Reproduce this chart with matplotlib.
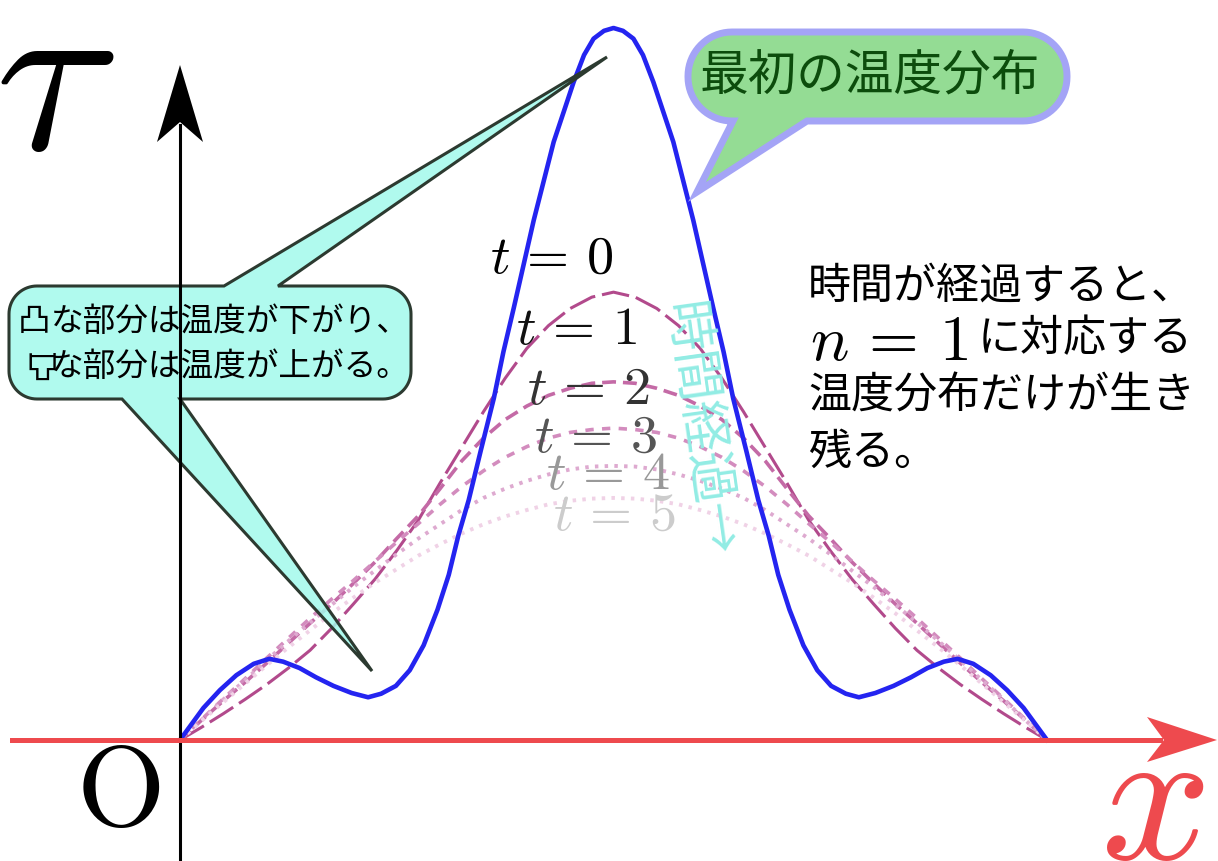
import numpy as np
import matplotlib.pyplot as plt
from matplotlib.patches import Polygon

plt.rcParams['mathtext.fontset'] = 'cm'
plt.rcParams['lines.scale_dashes'] = False
JP = ['Noto Sans CJK JP', 'DejaVu Sans']

# initial temperature (t = 0); x runs 0..1 between the ends
x_init = [0.000, 0.012, 0.027, 0.046, 0.065, 0.085, 0.103, 0.119, 0.138, 0.157,
          0.177, 0.198, 0.217, 0.232, 0.249, 0.265, 0.281, 0.297, 0.310, 0.321,
          0.333, 0.347, 0.362, 0.373, 0.385, 0.408, 0.431, 0.454, 0.466, 0.477,
          0.489, 0.500, 0.511, 0.523, 0.534, 0.546, 0.569, 0.592, 0.615, 0.627,
          0.638, 0.653, 0.667, 0.679, 0.690, 0.703, 0.719, 0.735, 0.751, 0.768,
          0.783, 0.802, 0.823, 0.843, 0.862, 0.881, 0.897, 0.915, 0.935, 0.954,
          0.973, 0.988, 1.000]
tau_init = [0.000, 0.020, 0.045, 0.070, 0.091, 0.107, 0.114, 0.110, 0.101, 0.088,
            0.076, 0.066, 0.060, 0.065, 0.076, 0.098, 0.133, 0.183, 0.232, 0.287,
            0.337, 0.407, 0.480, 0.545, 0.607, 0.730, 0.840, 0.924, 0.962, 0.985,
            0.996, 1.000, 0.996, 0.985, 0.962, 0.924, 0.840, 0.730, 0.607, 0.545,
            0.480, 0.407, 0.337, 0.287, 0.232, 0.183, 0.133, 0.098, 0.076, 0.065,
            0.060, 0.066, 0.076, 0.088, 0.101, 0.110, 0.114, 0.107, 0.091, 0.070,
            0.045, 0.020, 0.000]

# later times t = 1..5
x_t = [0.000, 0.025, 0.050, 0.075, 0.100, 0.125, 0.150, 0.175, 0.200, 0.225,
       0.250, 0.275, 0.300, 0.325, 0.350, 0.375, 0.400, 0.425, 0.450, 0.475,
       0.500, 0.525, 0.550, 0.575, 0.600, 0.625, 0.650, 0.675, 0.700, 0.725,
       0.750, 0.775, 0.800, 0.825, 0.850, 0.875, 0.900, 0.925, 0.950, 0.975, 1.000]
tau_t1 = [0.000, 0.018, 0.037, 0.057, 0.078, 0.101, 0.126, 0.157, 0.191, 0.226,
          0.266, 0.309, 0.361, 0.411, 0.461, 0.508, 0.550, 0.582, 0.606, 0.622,
          0.629, 0.622, 0.606, 0.582, 0.550, 0.508, 0.461, 0.411, 0.361, 0.309,
          0.266, 0.226, 0.191, 0.157, 0.126, 0.101, 0.078, 0.057, 0.037, 0.018, 0.000]
tau_t2 = [0.000, 0.028, 0.055, 0.081, 0.108, 0.136, 0.164, 0.191, 0.220, 0.250,
          0.283, 0.315, 0.353, 0.392, 0.424, 0.450, 0.469, 0.484, 0.494, 0.501,
          0.503, 0.501, 0.494, 0.484, 0.469, 0.450, 0.424, 0.392, 0.353, 0.315,
          0.283, 0.250, 0.220, 0.191, 0.164, 0.136, 0.108, 0.081, 0.055, 0.028, 0.000]
tau_t3 = [0.000, 0.029, 0.058, 0.086, 0.115, 0.143, 0.171, 0.198, 0.224, 0.251,
          0.278, 0.304, 0.331, 0.356, 0.378, 0.397, 0.412, 0.424, 0.432, 0.436,
          0.438, 0.436, 0.432, 0.424, 0.412, 0.397, 0.378, 0.356, 0.331, 0.304,
          0.278, 0.251, 0.224, 0.198, 0.171, 0.143, 0.115, 0.086, 0.058, 0.029, 0.000]
tau_t4 = [0.000, 0.028, 0.057, 0.084, 0.112, 0.139, 0.165, 0.190, 0.215, 0.238,
          0.261, 0.283, 0.303, 0.323, 0.340, 0.353, 0.364, 0.373, 0.380, 0.384,
          0.385, 0.384, 0.380, 0.373, 0.364, 0.353, 0.340, 0.323, 0.303, 0.283,
          0.261, 0.238, 0.215, 0.190, 0.165, 0.139, 0.112, 0.084, 0.057, 0.028, 0.000]
tau_t5 = [0.000, 0.027, 0.053, 0.079, 0.105, 0.130, 0.154, 0.178, 0.200, 0.221,
          0.240, 0.259, 0.275, 0.290, 0.303, 0.314, 0.323, 0.331, 0.336, 0.339,
          0.340, 0.339, 0.336, 0.331, 0.323, 0.314, 0.303, 0.290, 0.275, 0.259,
          0.240, 0.221, 0.200, 0.178, 0.154, 0.130, 0.105, 0.079, 0.053, 0.027, 0.000]

t_labels = [r'$t\,=\,0$', r'$t\,=\,1$', r'$t\,=\,2$',
            r'$t\,=\,3$', r'$t\,=\,4$', r'$t\,=\,5$']

fig = plt.figure(figsize=(12.18, 8.61), dpi=100)
ax = fig.add_axes([0, 0, 1, 1])
ax.set_xlim(-180 / 867, 1038 / 867)
ax.set_ylim(-121 / 712, 740 / 712)
ax.axis('off')

# overlay in pixel units for the decorations
ov = fig.add_axes([0, 0, 1, 1], zorder=3)
ov.set_xlim(0, 1218)
ov.set_ylim(861, 0)
ov.axis('off')

later = [tau_t1, tau_t2, tau_t3, tau_t4, tau_t5]
styles = [dict(color='#b24a8c', lw=2.2, dashes=(20, 5)),
          dict(color='#c46aa6', lw=2.6, dashes=(10, 5)),
          dict(color='#d38cbe', lw=2.6, dashes=(6, 6)),
          dict(color='#deaad0', lw=2.8, dashes=(2.5, 4.5)),
          dict(color='#f0d2e6', lw=2.8, dashes=(2.5, 4.5))]
for vals, st in zip(later, styles):
    ax.plot(x_t, vals, solid_capstyle='butt', dash_capstyle='butt', **st)
ax.plot(x_init, tau_init, color='#2424f0', lw=3.3, solid_joinstyle='round')

# axes with arrows
ov.plot([180, 180], [861, 125], color='black', lw=2.2)
ov.add_patch(Polygon([(180, 65), (157, 142), (180, 122), (203, 142)],
                     closed=True, fc='black', ec='none'))
ov.plot([12, 1160], [740, 740], color='#ee4a4e', lw=3.6)
ov.add_patch(Polygon([(1217, 740), (1147, 717), (1164, 740), (1147, 762)],
                     closed=True, fc='#ee4a4e', ec='none'))

ov.text(55, 86, r'$\tau$', fontsize=165, ha='center', va='center')
ov.text(118, 795, r'$\mathrm{O}$', fontsize=82, ha='center', va='center')
ov.text(1152, 805, r'$x$', fontsize=140, color='#ee4a4e', ha='center', va='center')

lab_pos = [(552, 258), (577, 329), (588, 389), (596, 437), (608, 474), (614, 515)]
lab_col = ['black', '#111111', '#333333', '#555555', '#999999', '#cccccc']
for s, (cx, cy), c in zip(t_labels, lab_pos, lab_col):
    ov.text(cx, cy, s, fontsize=39, color=c, ha='center', va='center')


def bubble(x0, y0, x1, y1, r, top=(), bottom=()):
    pts = []
    pts.append((x0 + r, y0))
    for xa, xb, tip in top:
        pts += [(xa, y0), tip, (xb, y0)]
    for cx, cy, a0 in [(x1 - r, y0 + r, -90), (x1 - r, y1 - r, 0)]:
        for a in np.radians(np.arange(a0, a0 + 91, 5)):
            pts.append((cx + r * np.cos(a), cy + r * np.sin(a)))
    for xb, xa, tip in bottom:
        pts += [(xb, y1), tip, (xa, y1)]
    for cx, cy, a0 in [(x0 + r, y1 - r, 90), (x0 + r, y0 + r, 180)]:
        for a in np.radians(np.arange(a0, a0 + 91, 5)):
            pts.append((cx + r * np.cos(a), cy + r * np.sin(a)))
    return pts


green = bubble(688, 32, 1067, 121, 44, bottom=[(807, 733, (697, 192))])
ov.add_patch(Polygon(green, closed=True, fc='#94dc94', ec='#a4a4f6', lw=5,
                     joinstyle='miter'))
ov.text(870, 76, '最初の温度分布', fontsize=35, color='#0c4c0c',
        ha='center', va='center', family=JP)

cyan = bubble(9, 286, 411, 399, 28, top=[(224, 278, (607, 57))],
              bottom=[(180, 122, (372, 671))])
ov.add_patch(Polygon(cyan, closed=True, fc=(0.64, 0.98, 0.92, 0.85),
                     ec='#2c3a30', lw=2.2, joinstyle='miter'))
fs = 23.5
em = fs * 100 / 72
ov.text(18 + em / 2, 322, '凸', fontsize=fs, ha='center', va='center', family=JP)
ov.text(18 + em, 322, 'な部分は温度が下がり、', fontsize=fs, ha='left', va='center', family=JP)
ov.text(20 + em / 2, 362, '凸', fontsize=fs, ha='center', va='center', family=JP,
        rotation=180)
ov.text(18 + em, 367, 'な部分は温度が上がる。', fontsize=fs, ha='left', va='center', family=JP)

# right hand note
ov.text(808, 287, '時間が経過すると、', fontsize=31, ha='left', va='center', family=JP)
ov.text(810, 360, r'$n\,=\,1$', fontsize=46, ha='left', va='baseline')
ov.text(978, 339, 'に対応する', fontsize=31, ha='left', va='center', family=JP)
ov.text(808, 397, '温度分布だけが生き', fontsize=31, ha='left', va='center', family=JP)
ov.text(808, 453, '残る。', fontsize=31, ha='left', va='center', family=JP)

ov.text(699, 430, '時間経過→', fontsize=37, color='#92ece4', rotation=-82,
        rotation_mode='anchor', ha='center', va='center', family=JP)

fig.savefig('out.png', dpi=100)
